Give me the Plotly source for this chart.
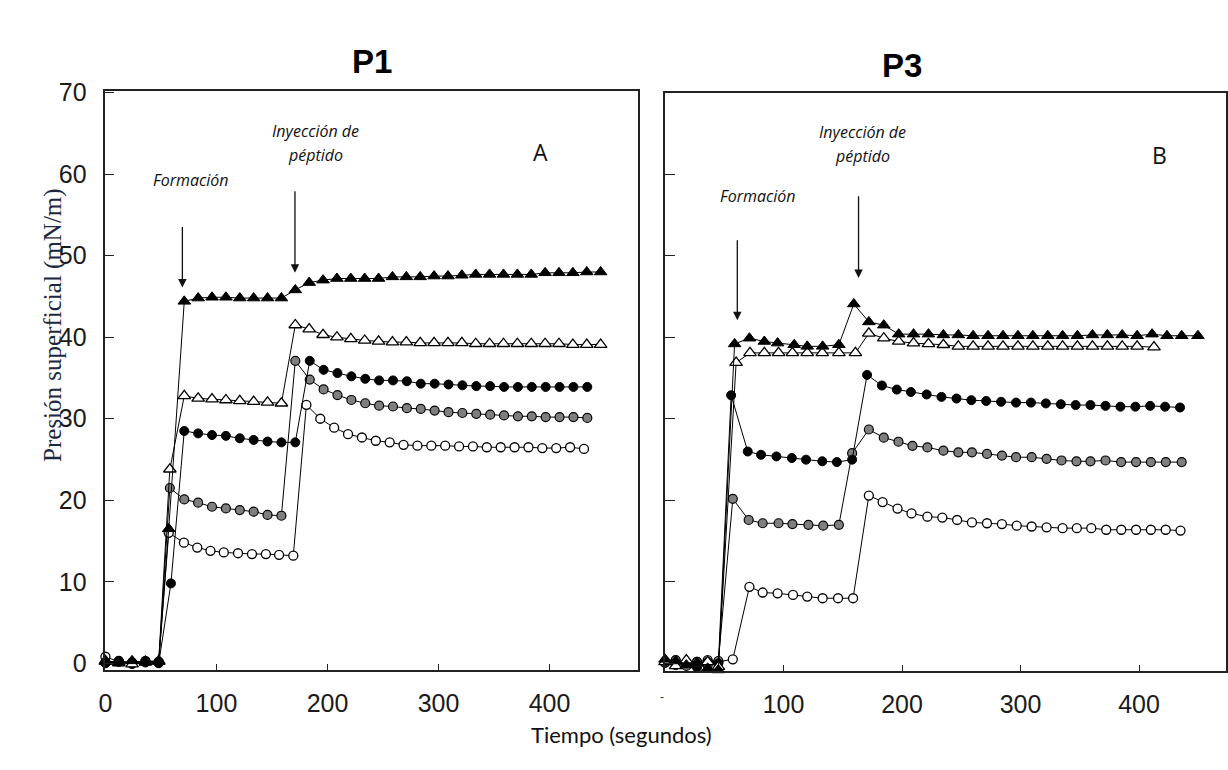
import plotly.graph_objects as go

# ---------------- DATA ----------------
# Panel A (P1)
t_p1_bt = [0, 12, 24, 36, 48, 57, 71, 83.5, 96, 108.5, 121, 133.5, 146, 158.5, 171, 183.5, 196, 208.5, 221, 233.5,
           246, 258.5, 271, 283.5, 296, 308.5, 321, 333.5, 346, 358.5, 371, 383.5, 396, 408.5, 421, 433.5, 446]
y_p1_bt = [0.2, 0.0, 0.3, 0.1, 0.2, 16.5, 44.4, 44.8, 44.9, 44.9, 44.8, 44.8, 44.8, 44.8, 45.8, 46.7, 47.0, 47.2, 47.2,
           47.2, 47.2, 47.4, 47.4, 47.4, 47.5, 47.5, 47.6, 47.7, 47.7, 47.7, 47.7, 47.7, 47.9, 47.9, 47.9, 48.0, 48.0]

t_p1_ot = [0, 12, 24, 36, 48, 58, 71, 83.5, 96, 108.5, 121, 133.5, 146, 158.5, 171, 183.5, 196, 208.5, 221, 233.5,
           246, 258.5, 271, 283.5, 296, 308.5, 321, 333.5, 346, 358.5, 371, 383.5, 396, 408.5, 421, 433.5, 446]
y_p1_ot = [0.3, 0.1, -0.1, 0.2, 0.3, 23.8, 32.8, 32.5, 32.4, 32.3, 32.2, 32.1, 32.0, 31.9, 41.5, 41.0, 40.3, 40.0, 39.8,
           39.6, 39.5, 39.4, 39.4, 39.3, 39.3, 39.3, 39.3, 39.2, 39.2, 39.2, 39.2, 39.2, 39.2, 39.2, 39.1, 39.1, 39.1]

t_p1_bc = [0, 12, 24, 36, 48, 59, 71, 83.5, 96, 108.5, 121, 133.5, 146, 158.5, 171, 184, 196.5, 209, 221.5, 234,
           246.5, 259, 271.5, 284, 296.5, 309, 321.5, 334, 346.5, 359, 371.5, 384, 396.5, 409, 421.5, 434]
y_p1_bc = [0.0, 0.2, -0.1, 0.1, 0.0, 9.8, 28.5, 28.2, 28.0, 27.9, 27.6, 27.4, 27.2, 27.1, 27.1, 37.1, 36.0, 35.6, 35.2,
           34.9, 34.7, 34.7, 34.6, 34.3, 34.3, 34.2, 34.1, 34.0, 34.0, 33.9, 33.9, 33.9, 33.9, 33.9, 33.9, 33.9]

t_p1_gc = [0, 12, 24, 36, 48, 58, 71, 83.5, 96, 108.5, 121, 133.5, 146, 158.5, 171, 184, 196.5, 209, 221.5, 234,
           246.5, 259, 271.5, 284, 296.5, 309, 321.5, 334, 346.5, 359, 371.5, 384, 396.5, 409, 421.5, 434]
y_p1_gc = [0.1, 0.3, 0.0, 0.2, 0.1, 21.5, 20.1, 19.7, 19.2, 19.0, 18.8, 18.6, 18.2, 18.1, 37.1, 34.8, 33.6, 32.9, 32.3,
           31.9, 31.6, 31.5, 31.3, 31.2, 31.0, 30.8, 30.7, 30.6, 30.5, 30.4, 30.3, 30.3, 30.2, 30.2, 30.2, 30.1]

t_p1_oc = [0, 12, 24, 36, 48, 57, 70.7, 82.7, 94.6, 106.6, 119.4, 132, 144.5, 156.4, 169.2, 181, 193.5, 206, 218.5,
           231, 243.5, 256, 268.5, 281, 293.5, 306, 318.5, 331, 343.5, 356, 368.5, 381, 393.5, 406, 418.5, 431]
y_p1_oc = [0.8, 0.2, 0.1, 0.3, 0.2, 16.0, 14.8, 14.2, 13.8, 13.6, 13.5, 13.4, 13.4, 13.3, 13.2, 31.7, 30.0, 28.9, 28.1,
           27.7, 27.3, 27.1, 26.8, 26.7, 26.7, 26.7, 26.6, 26.6, 26.5, 26.5, 26.5, 26.5, 26.4, 26.4, 26.5, 26.3]

# Panel B (P3)
t_p3_bt = [0, 9, 18, 27, 36, 45, 58.7, 71.2, 83.8, 95, 109, 120, 133, 146.7, 159.3, 172, 184.6, 197.2, 209.7, 222.3,
           234.9, 247.5, 260, 272.6, 285.2, 297.8, 310.4, 323, 335.5, 348, 360.7, 373.3, 385.8, 398.4, 411, 423.6,
           436, 449.7]
y_p3_bt = [0.5, 0.3, -0.2, 0.1, -0.6, -0.8, 39.2, 39.9, 39.5, 39.3, 39.1, 38.9, 38.9, 39.1, 44.1, 41.9, 41.5, 40.4,
           40.4, 40.4, 40.3, 40.3, 40.2, 40.2, 40.2, 40.2, 40.2, 40.2, 40.2, 40.2, 40.3, 40.3, 40.3, 40.2, 40.4, 40.2,
           40.2, 40.2]

t_p3_ot = [0, 9, 18, 27, 36, 45, 60, 71.7, 83.8, 95.8, 107.5, 120, 132.7, 146.7, 160.7, 172, 184.6, 197.2, 209.7,
           222.3, 234.9, 247.5, 260, 272.6, 285.2, 297.8, 310.4, 323, 335.5, 348, 360.7, 373.3, 385.8, 398.4, 412.6]
y_p3_ot = [0.2, -0.3, 0.4, 0.0, 0.2, -0.4, 36.9, 38.1, 38.1, 38.1, 38.1, 38.1, 38.1, 38.1, 38.1, 40.5, 39.9, 39.5,
           39.3, 39.2, 39.1, 38.9, 38.9, 38.9, 38.9, 38.9, 38.9, 38.9, 38.9, 38.9, 38.9, 38.9, 38.9, 38.9, 38.8]

t_p3_bc = [0, 9, 18, 27, 36, 45, 55.8, 69.8, 81, 94, 107, 119, 132.7, 145, 157.9, 170.5, 183, 195.6, 207.5, 220.8,
           233.3, 246, 258.5, 271, 283.6, 296.2, 308.8, 321.4, 334, 346.5, 359, 371.7, 384.3, 396.9, 409.4, 422,
           434.6]
y_p3_bc = [0.3, -0.2, 0.1, -0.5, 0.2, 0.0, 32.9, 26.0, 25.6, 25.4, 25.2, 25.0, 24.8, 24.7, 25.0, 35.4, 34.1, 33.6,
           33.3, 33.0, 32.7, 32.5, 32.3, 32.2, 32.1, 32.0, 32.0, 31.9, 31.8, 31.7, 31.7, 31.6, 31.5, 31.5, 31.6, 31.5,
           31.4]

t_p3_gc = [0, 9, 18, 27, 36, 45, 57.2, 70.6, 82.4, 95.8, 107.5, 121, 133.5, 146.7, 157.9, 172, 184.6, 197, 208.8,
           221.4, 234.9, 247.5, 259, 271.7, 284.3, 296.2, 309.4, 322, 334.6, 347.2, 359, 371.7, 384.9, 397.5, 410,
           422.6, 436]
y_p3_gc = [0.1, 0.4, -0.3, 0.2, -0.2, 0.3, 20.2, 17.6, 17.2, 17.2, 17.1, 17.0, 16.9, 17.0, 25.8, 28.7, 27.7, 27.2,
           26.7, 26.5, 26.1, 25.9, 25.9, 25.7, 25.5, 25.3, 25.3, 25.1, 24.9, 24.8, 24.8, 24.9, 24.7, 24.7, 24.7, 24.7,
           24.7]

t_p3_oc = [0, 9, 18, 27, 36, 45, 57.2, 71.2, 82.4, 95, 108, 120, 133, 146, 158.7, 172, 183.6, 196.2, 208, 221.4,
           234, 246.5, 259, 271.7, 284.3, 296.8, 309.4, 322, 335.5, 347.5, 359.7, 372.3, 385, 397.5, 410, 422.5, 435]
y_p3_oc = [0.1, 0.3, -0.1, 0.2, 0.4, 0.2, 0.5, 9.4, 8.7, 8.6, 8.4, 8.2, 8.0, 8.0, 8.0, 20.6, 19.8, 19.0, 18.4, 18.0,
           17.9, 17.6, 17.3, 17.2, 17.1, 16.9, 16.8, 16.7, 16.6, 16.6, 16.6, 16.4, 16.4, 16.4, 16.4, 16.4, 16.3]

x_ticks_a = [0, 100, 200, 300, 400]
x_ticks_b = [100, 200, 300, 400]
y_ticks = [0, 10, 20, 30, 40, 50, 60, 70]

# ---------------- STYLES ----------------
styles = {
    "bt": dict(symbol="triangle-up", size=11, color="black", line=dict(color="black", width=1)),
    "ot": dict(symbol="triangle-up", size=11, color="white", line=dict(color="black", width=1.3)),
    "bc": dict(symbol="circle", size=9, color="black", line=dict(color="black", width=1)),
    "gc": dict(symbol="circle", size=9, color="#7f7f7f", line=dict(color="black", width=1.2)),
    "oc": dict(symbol="circle", size=9, color="white", line=dict(color="black", width=1.3)),
}

fig = go.Figure()

def add(t, y, key, xa, ya):
    fig.add_trace(go.Scatter(x=t, y=y, mode="lines+markers", xaxis=xa, yaxis=ya,
                             line=dict(color="black", width=1), marker=styles[key],
                             cliponaxis=False, showlegend=False, hoverinfo="x+y"))

add(t_p1_oc, y_p1_oc, "oc", "x", "y")
add(t_p1_gc, y_p1_gc, "gc", "x", "y")
add(t_p1_bc, y_p1_bc, "bc", "x", "y")
add(t_p1_ot, y_p1_ot, "ot", "x", "y")
add(t_p1_bt, y_p1_bt, "bt", "x", "y")

add(t_p3_oc, y_p3_oc, "oc", "x2", "y2")
add(t_p3_gc, y_p3_gc, "gc", "x2", "y2")
add(t_p3_bc, y_p3_bc, "bc", "x2", "y2")
add(t_p3_ot, y_p3_ot, "ot", "x2", "y2")
add(t_p3_bt, y_p3_bt, "bt", "x2", "y2")

W, H = 1228, 770
tickfont = dict(family="Liberation Sans, Arial, sans-serif", size=25, color="#1a1a1a")
axcommon = dict(showline=True, linecolor="#222", linewidth=1.6, mirror=True, showgrid=False, zeroline=False,
                ticks="inside", tickcolor="#222", tickwidth=1.4, tickfont=tickfont)

fig.update_layout(
    width=W, height=H, margin=dict(l=0, r=0, t=0, b=0),
    paper_bgcolor="white", plot_bgcolor="white",
    xaxis=dict(domain=[99 / W, 635 / W], range=[0, 480], tickvals=x_ticks_a, ticklen=7, anchor="y",
               ticklabelstandoff=10, **axcommon),
    yaxis=dict(domain=[1 - 674 / H, 1 - 80 / H], range=[-0.87, 70.2], tickvals=y_ticks, ticklen=9, anchor="x",
               ticklabelstandoff=12, **axcommon),
    xaxis2=dict(domain=[661.8 / W, 1226 / W], range=[0, 473.4], tickvals=x_ticks_b, ticklen=7, anchor="y2",
                ticklabelstandoff=10, **axcommon),
    yaxis2=dict(domain=[1 - 675 / H, 1 - 82.3 / H], range=[-0.97, 69.95], tickvals=y_ticks, ticklen=10,
                showticklabels=False, anchor="x2", **{k: v for k, v in axcommon.items() if k != "tickfont"}),
)

ann_font = dict(family="Open Sans, sans-serif", size=16, color="#111")
anns = []
# arrows
for (xr, yr, x0, y0, x1, y1) in [("x", "y", 69.3, 53.7, 69.3, 46.1), ("x", "y", 170.7, 58.1, 170.7, 47.9),
                                  ("x2", "y2", 61, 52.1, 61, 42.1), ("x2", "y2", 163.3, 57.5, 163.3, 47.3)]:
    anns.append(dict(xref=xr, yref=yr, axref=xr, ayref=yr, x=x1, y=y1, ax=x0, ay=y0, text="", showarrow=True,
                     arrowhead=2, arrowsize=1.3, arrowwidth=1.3, arrowcolor="#111"))
# text labels
for (xr, yr, x, y, txt) in [("x", "y", 76.3, 59.3, "Formación"), ("x", "y", 189.5, 65.3, "Inyección de"),
                            ("x", "y", 189.5, 62.3, "péptido"), ("x2", "y2", 78.2, 57.3, "Formación"),
                            ("x2", "y2", 166.3, 65.2, "Inyección de"), ("x2", "y2", 166.3, 62.3, "péptido")]:
    anns.append(dict(xref=xr, yref=yr, x=x, y=y, text="<i>" + txt + "</i>", showarrow=False, font=ann_font))
for (xr, yr, x, y, txt) in [("x", "y", 391.9, 62.7, "A"), ("x2", "y2", 417.1, 62.4, "B")]:
    anns.append(dict(xref=xr, yref=yr, x=x, y=y, text=txt, showarrow=False,
                     font=dict(family="Open Sans, sans-serif", size=23, color="#111")))
# titles
title_font = dict(family="Liberation Sans, Arial, sans-serif", size=33, color="black")
anns.append(dict(xref="paper", yref="paper", x=345 / W, y=1 - 29 / H, text="<b>P1</b>", showarrow=False,
                 font=title_font))
anns.append(dict(xref="paper", yref="paper", x=922 / W, y=1 - 33 / H, text="<b>P3</b>", showarrow=False,
                 font=title_font))
anns.append(dict(xref="paper", yref="paper", x=30 / W, y=1 - 320 / H, text="Presión superficial (mN/m)",
                 showarrow=False, textangle=-90,
                 font=dict(family="Liberation Serif, Times New Roman, serif", size=25, color="#1c2740")))
anns.append(dict(xref="paper", yref="paper", x=618 / W, y=1 - 756 / H, text="Tiempo (segundos)", showarrow=False,
                 font=dict(family="Lato, Open Sans, sans-serif", size=22, color="#111")))
anns.append(dict(xref="paper", yref="paper", x=659 / W, y=1 - 711 / H, text="-", showarrow=False,
                 font=dict(family="Liberation Sans, sans-serif", size=12, color="#333")))
fig.update_layout(annotations=anns)

fig.write_html("out.html")
